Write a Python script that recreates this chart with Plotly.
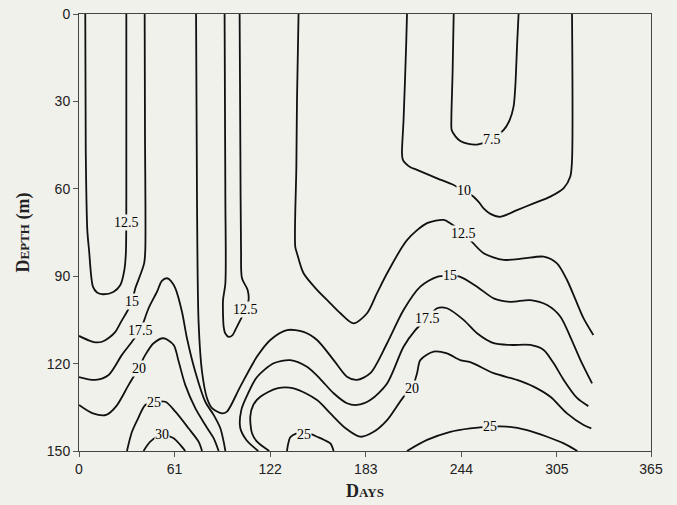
import plotly.graph_objects as go

# isotherms: day of year vs depth (m)
iso_7_5_day = [239.1, 238.4, 237.6, 237.8, 240.2, 243.3, 248.5, 254.0, 263.6, 271.0, 274.8, 277.3, 278.4, 279.6, 280.5]
iso_7_5_depth = [0, 20, 36.4, 39.8, 42.0, 43.6, 44.6, 44.8, 43.0, 39.8, 36.4, 31.8, 25.0, 10, 0]

iso_10_day = [209.3, 208.8, 207.1, 206.1, 206.6, 208.2, 211.5, 215.7, 228.5, 239.1, 245.4, 251.8, 255.5, 258.2,
              262.5, 268.9, 279.5, 290.1, 300.8, 309.3, 313.5, 314.6, 314.6]
iso_10_depth = [0, 10, 36.4, 47.8, 50.0, 51.2, 52.6, 53.5, 56.4, 58.7, 60.7, 62.7, 64.8, 66.7,
                68.6, 69.6, 67.3, 65.0, 62.7, 59.8, 55.8, 50.1, 0]

iso_12_5a_day = [4.0, 4.3, 5.3, 6.4, 8.9, 11.5, 15.3, 21.9, 26.4, 28.9, 29.9, 30.2, 30.2]
iso_12_5a_depth = [0, 46.7, 74.2, 81.0, 93.6, 95.6, 96.2, 95.4, 93.0, 88.0, 82.1, 63.8, 0]

iso_12_5b_day = [92.9, 93.2, 93.4, 93.4, 91.9, 91.9, 92.3, 93.3, 95.5, 98.0, 99.7, 103.0, 106.1, 108.2,
                 107.6, 104.0, 103.4, 103.0, 102.5]
iso_12_5b_depth = [0, 40, 63.8, 92.4, 98.2, 103, 107.3, 109.6, 110.8, 110.2, 108.5, 105.0, 101.6, 98.2,
                   94.7, 90.7, 81.0, 50, 0]

iso_12_5c_day = [140.1, 139.1, 138.7, 138.0, 139.1, 143.3, 151.9, 160.4, 166.8, 175.2, 183.8, 190.0, 196.6,
                 209.3, 222.1, 232.7, 236.9, 245.4, 249.7, 258.2, 271.0, 283.7, 296.5, 305.0, 311.4, 317.8,
                 322.0, 328.2]
iso_12_5c_depth = [0, 29.5, 52.4, 79.9, 82.1, 89.0, 94.7, 99.3, 102.7, 106.2, 102.7, 96.0, 89.0,
                   77.6, 71.8, 70.7, 71.8, 75.3, 77.6, 82.1, 84.4, 83.9, 83.3, 85.6, 91.3, 99.3,
                   104.5, 110.2]

iso_15a_day = [41.9, 42.1, 42.3, 41.6, 39.1, 35.9, 33.8, 30.6, 27.0, 23.2, 18.9, 14.7, 10.4, 6.6, 0]
iso_15a_depth = [0, 40, 81.0, 85.5, 89.6, 94.2, 98.8, 102.2, 105.5, 109.1, 111.2, 112.5, 112.7, 112.1, 110.5]

iso_15b_day = [74.7, 75.3, 76.3, 78.5, 81.7, 84.9, 91.3, 94.4, 102.9, 113.6, 122.1, 132.7, 143.3, 151.9,
               162.5, 171.0, 177.4, 185.9, 196.6, 207.1, 217.8, 228.5, 236.9, 243.3, 254.0, 264.6,
               275.2, 288.0, 298.7, 307.2, 313.5, 320.0, 327.4]
iso_15b_depth = [0, 63.8, 105.6, 122.8, 131.9, 135.3, 137.1, 136.5, 127.9, 117.6, 111.9, 108.5, 109.1, 111.9,
                 118.8, 124.5, 125.6, 123.3, 113.0, 101.6, 93.6, 90.2, 89.9, 90.2, 93.6, 97.6,
                 98.8, 98.2, 99.9, 103.9, 110.8, 118.8, 126.8]

iso_17_5a_day = [0, 10.4, 18.9, 27.4, 33.8, 39.1, 44.4, 49.8, 52.9, 56.2, 58.6, 61.5, 65.7, 68.9, 74.2,
                 80.6, 85.9, 90.2, 92.3, 93.4]
iso_17_5a_depth = [124.6, 125.6, 123.9, 117.0, 112.5, 108.5, 101.0, 95.3, 91.6, 90.7, 91.6, 94.2, 102.2, 111.3,
                   122.8, 133.1, 137.6, 142.2, 146.8, 150]

iso_17_5b_day = [114.4, 106.8, 102.9, 103.6, 107.4, 113.6, 124.2, 134.8, 145.5, 154.0, 162.3, 171.0, 177.4,
                 185.9, 196.6, 207.1, 214.6, 222.1, 228.5, 234.8, 245.4, 254.0, 264.6, 275.2, 288.0,
                 296.5, 302.9, 309.3, 317.8, 325.0]
iso_17_5b_depth = [150, 146.2, 142.1, 135.9, 130.8, 124.6, 119.9, 118.8, 121.1, 125.3, 130.1, 133.6, 134.2,
                   132.5, 126.8, 114.2, 108.5, 104.5, 101.0, 101.0, 105.0, 109.6, 113.0, 113.6, 113.6,
                   115.3, 119.9, 125.6, 131.8, 134.6]

iso_20a_day = [0, 8.9, 17.4, 23.8, 31.7, 38.0, 42.3, 47.6, 54.0, 60.4, 63.6, 67.8, 74.2, 80.6, 85.9, 89.1]
iso_20a_depth = [134.2, 137.1, 137.6, 134.6, 127.3, 121.6, 117.0, 113.0, 111.3, 113.6, 119.3, 127.3, 135.3,
                 141.1, 145.6, 150]

iso_20b_day = [121.4, 113.8, 110.4, 109.3, 111.2, 115.7, 126.4, 137.0, 151.9, 160.4, 169.9, 179.5, 187.8,
               196.6, 207.1, 212.5, 215.7, 217.8, 226.3, 234.8, 243.3, 249.7, 264.6, 279.5, 290.1,
               300.8, 311.4, 322.0, 326.9]
iso_20b_depth = [150, 146.9, 143.9, 138.2, 134.2, 131.4, 128.5, 128.5, 132.5, 137.1, 142.1, 145.1, 143.5,
                 139.4, 131.4, 128.5, 123.3, 118.8, 115.9, 116.5, 118.8, 119.5, 123.3, 125.6, 127.9,
                 131.4, 137.1, 141.1, 142.2]

iso_25a_day = [30.6, 33.8, 37.8, 42.3, 47.6, 55.1, 61.5, 69.9, 76.3, 78.5]
iso_25a_depth = [150, 143.4, 138.7, 134.2, 133.3, 133.1, 136.5, 142.2, 146.8, 150]

iso_25b_day = [132.7, 133.3, 134.8, 138.5, 143.3, 148.5, 151.9, 156.5, 160.4, 162.5]
iso_25b_depth = [150, 148.0, 145.3, 144.0, 144.0, 144.3, 145.1, 146.2, 147.4, 150]

iso_25c_day = [209.3, 222.1, 236.9, 249.7, 262.4, 273.1, 285.9, 298.7, 309.3, 318.0]
iso_25c_depth = [150, 146.2, 143.4, 142.2, 141.6, 141.6, 142.8, 145.1, 147.4, 150]

iso_30_day = [41.2, 45.5, 53.0, 60.4, 64.6, 67.8]
iso_30_depth = [150, 146.8, 144.5, 145.6, 147.9, 150]

label_text = ["7.5", "10", "12.5", "12.5", "12.5", "15", "15", "17.5", "17.5", "20", "20",
              "25", "25", "25", "30"]
label_day = [263.6, 245.4, 30.2, 106.1, 245.4, 33.8, 236.9, 39.1, 222.1, 38.0, 212.5,
             47.6, 143.3, 262.4, 53.0]
label_depth = [43.0, 60.7, 71.7, 101.6, 75.3, 98.8, 89.9, 108.5, 104.5, 121.6, 128.5,
               133.5, 144.3, 141.6, 144.5]

day_ticks = [0, 61, 122, 183, 244, 305, 365]
depth_ticks = [0, 30, 60, 90, 120, 150]

bg = "#f1f1ec"

lines = [
    (iso_7_5_day, iso_7_5_depth), (iso_10_day, iso_10_depth),
    (iso_12_5a_day, iso_12_5a_depth), (iso_12_5b_day, iso_12_5b_depth), (iso_12_5c_day, iso_12_5c_depth),
    (iso_15a_day, iso_15a_depth), (iso_15b_day, iso_15b_depth),
    (iso_17_5a_day, iso_17_5a_depth), (iso_17_5b_day, iso_17_5b_depth),
    (iso_20a_day, iso_20a_depth), (iso_20b_day, iso_20b_depth),
    (iso_25a_day, iso_25a_depth), (iso_25b_day, iso_25b_depth), (iso_25c_day, iso_25c_depth),
    (iso_30_day, iso_30_depth),
]

fig = go.Figure()
for d, z in lines:
    fig.add_trace(go.Scatter(x=d, y=z, mode="lines", showlegend=False, hoverinfo="skip",
                             line=dict(color="#111", width=1.8, shape="spline", smoothing=0.8)))

for t, d, z in zip(label_text, label_day, label_depth):
    fig.add_annotation(x=d, y=z, text=t, showarrow=False, bgcolor=bg, borderpad=0,
                       font=dict(family="Liberation Serif", size=14, color="#000"))

fig.update_layout(
    width=677, height=505,
    margin=dict(l=79, r=26, t=14, b=54),
    paper_bgcolor=bg, plot_bgcolor=bg,
    font=dict(family="Liberation Sans", size=14, color="#222"),
    xaxis=dict(range=[0, 365], tickvals=day_ticks, ticks="outside", ticklen=5, tickcolor="#555",
               showgrid=False, zeroline=False, showline=True, linecolor="#444", linewidth=1, mirror=True,
               automargin=False,
               title=dict(text="<b>D<span style='font-size:13px'>AYS</span></b>",
                          font=dict(family="Liberation Serif", size=18, color="#222"), standoff=8)),
    yaxis=dict(range=[150, 0], tickvals=depth_ticks, ticks="outside", ticklen=5, tickcolor="#555",
               showgrid=False, zeroline=False, showline=True, linecolor="#444", linewidth=1, mirror=True,
               automargin=False,
               title=dict(text="<b>D<span style='font-size:13px'>EPTH</span> (m)</b>",
                          font=dict(family="Liberation Serif", size=18, color="#222"), standoff=12)),
)

fig.write_html("out.html", config={"displayModeBar": False},
               post_script="document.body.style.margin='0';")
